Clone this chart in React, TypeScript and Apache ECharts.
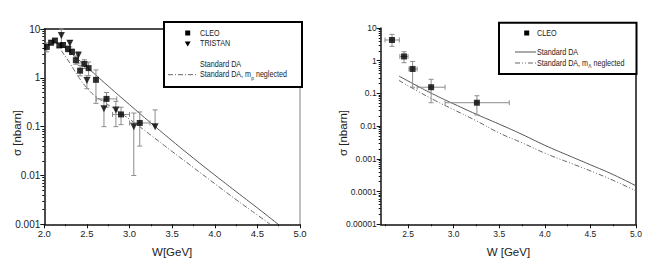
import React, { useEffect, useRef } from "react";
import * as echarts from "echarts";

const FONT = "'Liberation Sans', Arial, Helvetica, sans-serif";

// ---------- Left panel data ----------
const leftCleoW = [2.03, 2.08, 2.125, 2.176, 2.22, 2.278, 2.325, 2.37, 2.42, 2.47, 2.52, 2.606, 2.73, 2.9, 3.12];
const leftCleoSigma = [4.3, 5.25, 5.8, 4.6, 4.7, 3.9, 3.4, 2.3, 1.4, 1.93, 1.58, 0.91, 0.37, 0.178, 0.119];
const leftCleoLow = [3.4, 4.7, 5.3, 4.2, 4.2, 3.4, 3.0, 1.9, 1.1, 1.55, 1.1, 0.3, 0.25, 0.11, 0.04];
const leftCleoHigh = [5.2, 5.8, 6.3, 5.1, 5.2, 4.5, 3.9, 2.8, 1.8, 2.35, 2.1, 1.45, 0.5, 0.25, 0.2];
const leftCleoWLow = [2.03, 2.08, 2.125, 2.176, 2.22, 2.278, 2.325, 2.37, 2.42, 2.47, 2.52, 2.606, 2.61, 2.8, 3.0];
const leftCleoWHigh = [2.03, 2.08, 2.125, 2.176, 2.22, 2.278, 2.325, 2.37, 2.42, 2.47, 2.52, 2.606, 2.85, 3.0, 3.24];

const leftTristanW = [2.2, 2.3, 2.4, 2.5, 2.7, 2.84, 3.05, 3.3];
const leftTristanSigma = [7.4, 5.1, 2.9, 0.88, 0.233, 0.22, 0.1, 0.1];
const leftTristanLow = [4.5, 4.3, 2.0, 0.6, 0.1, 0.1, 0.01, 0.1];
const leftTristanHigh = [10, 5.8, 3.4, 1.1, 0.35, 0.33, 0.19, 0.22];

const leftSolidW = [2.18, 2.25, 2.5, 2.75, 3.0, 3.25, 3.5, 3.75, 4.0, 4.25, 4.5, 4.745];
const leftSolidSigma = [5.0, 3.98, 1.66, 0.676, 0.282, 0.119, 0.0513, 0.0226, 0.0102, 0.00468, 0.00216, 0.001];
const leftDashW = [2.2, 2.3, 2.4, 2.5, 2.6, 2.8, 3.0, 3.25, 3.5, 3.75, 4.0, 4.25, 4.5, 4.65];
const leftDashSigma = [3.6, 2.0, 1.05, 0.62, 0.42, 0.245, 0.142, 0.067, 0.031, 0.0145, 0.0068, 0.0032, 0.00155, 0.001];

const leftXTicks = [2.0, 2.5, 3.0, 3.5, 4.0, 4.5, 5.0];
const leftYTicks = [0.001, 0.01, 0.1, 1, 10];

// ---------- Right panel data ----------
const rightCleoW = [2.324, 2.456, 2.55, 2.753, 3.255];
const rightCleoSigma = [4.3, 1.35, 0.56, 0.155, 0.052];
const rightCleoLow = [2.75, 0.87, 0.155, 0.052, 0.022];
const rightCleoHigh = [6.4, 1.88, 0.95, 0.27, 0.085];
const rightCleoWLow = [2.247, 2.41, 2.51, 2.6, 2.906];
const rightCleoWHigh = [2.404, 2.5, 2.6, 2.906, 3.61];

const rightSolidW = [2.4, 2.6, 2.8, 3.0, 3.25, 3.5, 3.75, 4.0, 4.25, 4.5, 4.75, 5.0];
const rightSolidSigma = [0.34, 0.17, 0.088, 0.048, 0.023, 0.0115, 0.0056, 0.0026, 0.0013, 0.00066, 0.00033, 0.00015];
const rightDashW = [2.4, 2.6, 2.8, 3.0, 3.25, 3.5, 3.75, 4.0, 4.25, 4.5, 4.75, 5.0];
const rightDashSigma = [0.25, 0.12, 0.06, 0.032, 0.0145, 0.0062, 0.0031, 0.0015, 0.0008, 0.00043, 0.00022, 0.000105];

const rightXTicks = [2.5, 3.0, 3.5, 4.0, 4.5, 5.0];
const rightXMinor = [2.25, 2.75, 3.25, 3.75, 4.25, 4.75];
const rightYTicks = [0.00001, 0.0001, 0.001, 0.01, 0.1, 1, 10];

function logMinors(lo: number, hi: number) {
  const out: number[] = [];
  for (let d = lo; d < hi * 0.99; d *= 10) {
    for (let k = 2; k <= 9; k++) out.push(Number((d * k).toPrecision(2)));
  }
  return out;
}

const fmtY = (v: number) => String(Number(Number(v).toPrecision(1)));

const zip = (...arrs: number[][]) => arrs[0].map((_, i) => arrs.map((a) => a[i]));

const errorRender = (params: any, api: any) => {
  const x = api.value(0);
  const y = api.value(1);
  const lo = api.value(2);
  const hi = api.value(3);
  const xl = api.value(4);
  const xh = api.value(5);
  const style = { stroke: "#8c8c8c", lineWidth: 1 };
  const children: any[] = [];
  const cap = 2.5;
  if (hi > lo) {
    const a = api.coord([x, hi]);
    const b = api.coord([x, lo]);
    children.push({ type: "line", shape: { x1: a[0], y1: a[1], x2: b[0], y2: b[1] }, style });
    children.push({ type: "line", shape: { x1: a[0] - cap, y1: a[1], x2: a[0] + cap, y2: a[1] }, style });
    if (lo < y) children.push({ type: "line", shape: { x1: b[0] - cap, y1: b[1], x2: b[0] + cap, y2: b[1] }, style });
  }
  if (xh > xl) {
    const a = api.coord([xl, y]);
    const b = api.coord([xh, y]);
    children.push({ type: "line", shape: { x1: a[0], y1: a[1], x2: b[0], y2: b[1] }, style });
    children.push({ type: "line", shape: { x1: a[0], y1: a[1] - cap, x2: a[0], y2: a[1] + cap }, style });
    children.push({ type: "line", shape: { x1: b[0], y1: b[1] - cap, x2: b[0], y2: b[1] + cap }, style });
  }
  return { type: "group", children };
};

const labelStyle = (size: number) => ({ fontFamily: FONT, fontSize: size, color: "#222" });

const legendText = (x: number, y: number, text: string, sub?: string) => ({
  type: "text",
  z: 101,
  x,
  y,
  scaleX: 0.8,
  style: {
    text: sub ? `${text}{sub|${sub}} neglected` : text,
    fontFamily: FONT,
    fontSize: 9,
    fill: "#222",
    verticalAlign: "middle",
    rich: { sub: { fontFamily: FONT, fontSize: 6, fill: "#222", padding: [6, 0, 0, 0] } },
  },
});

export default function App() {
  const ref = useRef<HTMLDivElement>(null);
  useEffect(() => {
    if (!ref.current) return;
    const chart = echarts.init(ref.current, undefined, { renderer: "svg" });
    const black = { show: true, lineStyle: { color: "#111", width: 1.5 } };
    const option: any = {
      animation: false,
      backgroundColor: "#fff",
      grid: [
        { left: 44.3, top: 29, width: 255.7, height: 195.3 },
        { left: 380.7, top: 28, width: 255.3, height: 196.3 },
      ],
      xAxis: [
        {
          gridIndex: 0, type: "value", min: 2, max: 5, position: "bottom",
          axisLine: black,
          splitLine: { show: false },
          axisTick: { show: true, inside: false, length: 4, lineStyle: { color: "#111" }, customValues: leftXTicks },
          minorTick: { show: true, splitNumber: 2, length: 2, lineStyle: { color: "#111" } },
          axisLabel: { ...labelStyle(9.5), margin: 4, customValues: leftXTicks, formatter: (v: number) => Number(v).toFixed(1) },
          name: "W[GeV]", nameLocation: "middle", nameGap: 22,
          nameTextStyle: { fontFamily: FONT, fontSize: 11.5, color: "#222" },
        },
        {
          gridIndex: 0, type: "value", min: 2, max: 5, position: "top",
          axisLine: black, axisTick: { show: false }, axisLabel: { show: false }, splitLine: { show: false },
        },
        {
          gridIndex: 1, type: "value", min: 2.2, max: 5, position: "bottom",
          axisLine: black,
          splitLine: { show: false },
          axisTick: { show: true, inside: false, length: 4, lineStyle: { color: "#111" }, customValues: rightXTicks },
          axisLabel: { ...labelStyle(8.5), margin: 5, customValues: rightXTicks, formatter: (v: number) => Number(v).toFixed(1) },
          name: "W [GeV]", nameLocation: "middle", nameGap: 22,
          nameTextStyle: { fontFamily: FONT, fontSize: 11.5, color: "#222" },
        },
        {
          gridIndex: 1, type: "value", min: 2.2, max: 5, position: "bottom",
          axisLine: { show: false },
          splitLine: { show: false },
          axisTick: { show: true, inside: false, length: 2, lineStyle: { color: "#111" }, customValues: rightXMinor },
          axisLabel: { show: false },
        },
      ],
      yAxis: [
        {
          gridIndex: 0, type: "log", logBase: 10, min: 0.001, max: 10, position: "left",
          axisLine: black, splitLine: { show: false },
          axisTick: { show: true, length: 4, lineStyle: { color: "#111" }, customValues: leftYTicks },
          axisLabel: { ...labelStyle(10), margin: 4, customValues: leftYTicks, formatter: fmtY },
        },
        {
          gridIndex: 0, type: "log", logBase: 10, min: 0.001, max: 10, position: "left",
          axisLine: { show: false }, splitLine: { show: false },
          axisTick: { show: true, length: 2, lineStyle: { color: "#111" }, customValues: logMinors(0.001, 10) },
          axisLabel: { show: false },
        },
        {
          gridIndex: 0, type: "log", logBase: 10, min: 0.001, max: 10, position: "right",
          axisLine: { show: true, lineStyle: { color: "#aaa", width: 1.5 } }, splitLine: { show: false },
          axisTick: { show: false }, axisLabel: { show: false },
        },
        {
          gridIndex: 1, type: "log", logBase: 10, min: 0.00001, max: 10, position: "left",
          axisLine: black, splitLine: { show: false },
          axisTick: { show: true, length: 4, lineStyle: { color: "#111" }, customValues: rightYTicks },
          axisLabel: { ...labelStyle(8.5), margin: 4, customValues: rightYTicks, formatter: fmtY },
        },
        {
          gridIndex: 1, type: "log", logBase: 10, min: 0.00001, max: 10, position: "left",
          axisLine: { show: false }, splitLine: { show: false },
          axisTick: { show: true, length: 2, lineStyle: { color: "#111" }, customValues: logMinors(0.00001, 10) },
          axisLabel: { show: false },
        },
        {
          gridIndex: 1, type: "log", logBase: 10, min: 0.00001, max: 10, position: "right",
          axisLine: { show: true, lineStyle: { color: "#111", width: 1.5 } }, splitLine: { show: false },
          axisTick: { show: false }, axisLabel: { show: false },
        },
      ],
      series: [
        {
          name: "Standard DA", type: "line", xAxisIndex: 0, yAxisIndex: 0, showSymbol: false, smooth: true,
          data: zip(leftSolidW, leftSolidSigma), lineStyle: { color: "#555", width: 1 }, z: 2,
        },
        {
          name: "Standard DA, mp neglected", type: "line", xAxisIndex: 0, yAxisIndex: 0, showSymbol: false, smooth: true,
          data: zip(leftDashW, leftDashSigma), lineStyle: { color: "#666", width: 1, type: [5, 2, 1, 2] }, z: 2,
        },
        {
          type: "custom", xAxisIndex: 0, yAxisIndex: 0, renderItem: errorRender, encode: { x: 0, y: 1 },
          data: zip(leftCleoW, leftCleoSigma, leftCleoLow, leftCleoHigh, leftCleoWLow, leftCleoWHigh), z: 3,
        },
        {
          type: "custom", xAxisIndex: 0, yAxisIndex: 0, renderItem: errorRender, encode: { x: 0, y: 1 },
          data: zip(leftTristanW, leftTristanSigma, leftTristanLow, leftTristanHigh, leftTristanW, leftTristanW), z: 3,
        },
        {
          name: "CLEO", type: "scatter", xAxisIndex: 0, yAxisIndex: 0, symbol: "rect", symbolSize: 6,
          itemStyle: { color: "#000" }, data: zip(leftCleoW, leftCleoSigma), z: 5,
        },
        {
          name: "TRISTAN", type: "scatter", xAxisIndex: 0, yAxisIndex: 0, symbol: "triangle", symbolRotate: 180, symbolSize: 7,
          itemStyle: { color: "#000" }, data: zip(leftTristanW, leftTristanSigma), z: 5,
        },
        {
          name: "Standard DA (right)", type: "line", xAxisIndex: 2, yAxisIndex: 3, showSymbol: false, smooth: true,
          data: zip(rightSolidW, rightSolidSigma), lineStyle: { color: "#555", width: 1 }, z: 2,
        },
        {
          name: "Standard DA, mΛ neglected", type: "line", xAxisIndex: 2, yAxisIndex: 3, showSymbol: false, smooth: true,
          data: zip(rightDashW, rightDashSigma), lineStyle: { color: "#666", width: 1, type: [5, 2, 1, 2, 1, 2] }, z: 2,
        },
        {
          type: "custom", xAxisIndex: 2, yAxisIndex: 3, renderItem: errorRender, encode: { x: 0, y: 1 },
          data: zip(rightCleoW, rightCleoSigma, rightCleoLow, rightCleoHigh, rightCleoWLow, rightCleoWHigh), z: 3,
        },
        {
          name: "CLEO (right)", type: "scatter", xAxisIndex: 2, yAxisIndex: 3, symbol: "rect", symbolSize: 6,
          itemStyle: { color: "#000" }, data: zip(rightCleoW, rightCleoSigma), z: 5,
        },
      ],
      graphic: [
        // Axis titles (y)
        {
          type: "text", x: 17, y: 133, rotation: Math.PI / 2,
          style: { text: "σ [nbarn]", fontFamily: FONT, fontSize: 11.5, fill: "#222", align: "center", verticalAlign: "middle" },
        },
        {
          type: "text", x: 343, y: 133, rotation: Math.PI / 2,
          style: { text: "σ [nbarn]", fontFamily: FONT, fontSize: 11.5, fill: "#222", align: "center", verticalAlign: "middle" },
        },
        // Left legend
        { type: "rect", z: 100, shape: { x: 164, y: 22, width: 138, height: 65 }, style: { fill: "#fff", stroke: "#000", lineWidth: 2 } },
        { type: "rect", z: 101, shape: { x: 185.2, y: 30.5, width: 5, height: 5 }, style: { fill: "#000" } },
        legendText(200, 33, "CLEO"),
        { type: "polygon", z: 101, shape: { points: [[184.7, 41.5], [190.7, 41.5], [187.7, 46.5]] }, style: { fill: "#000" } },
        legendText(200, 43.7, "TRISTAN"),
        legendText(200, 64, "Standard DA"),
        { type: "line", z: 101, shape: { x1: 168, y1: 74.7, x2: 197, y2: 74.7 }, style: { stroke: "#666", lineWidth: 1, lineDash: [5, 2, 1, 2] } },
        legendText(200, 74.7, "Standard DA, m", "p"),
        // Right legend
        { type: "rect", z: 100, shape: { x: 499, y: 22.7, width: 137.5, height: 51.3 }, style: { fill: "#fff", stroke: "#000", lineWidth: 2 } },
        { type: "rect", z: 101, shape: { x: 524.2, y: 30.5, width: 5, height: 5 }, style: { fill: "#000" } },
        legendText(537, 33, "CLEO"),
        { type: "line", z: 101, shape: { x1: 515, y1: 52, x2: 536, y2: 52 }, style: { stroke: "#555", lineWidth: 1 } },
        legendText(537, 52, "Standard DA"),
        { type: "line", z: 101, shape: { x1: 515, y1: 63, x2: 536, y2: 63 }, style: { stroke: "#666", lineWidth: 1, lineDash: [5, 2, 1, 2, 1, 2] } },
        legendText(537, 63, "Standard DA, m", "Λ"),
      ],
    };
    chart.setOption(option);
    return () => chart.dispose();
  }, []);
  return (
    <div
      ref={ref}
      style={{ position: "absolute", left: 0, top: 0, width: 654, height: 274, background: "#fff" }}
    />
  );
}
